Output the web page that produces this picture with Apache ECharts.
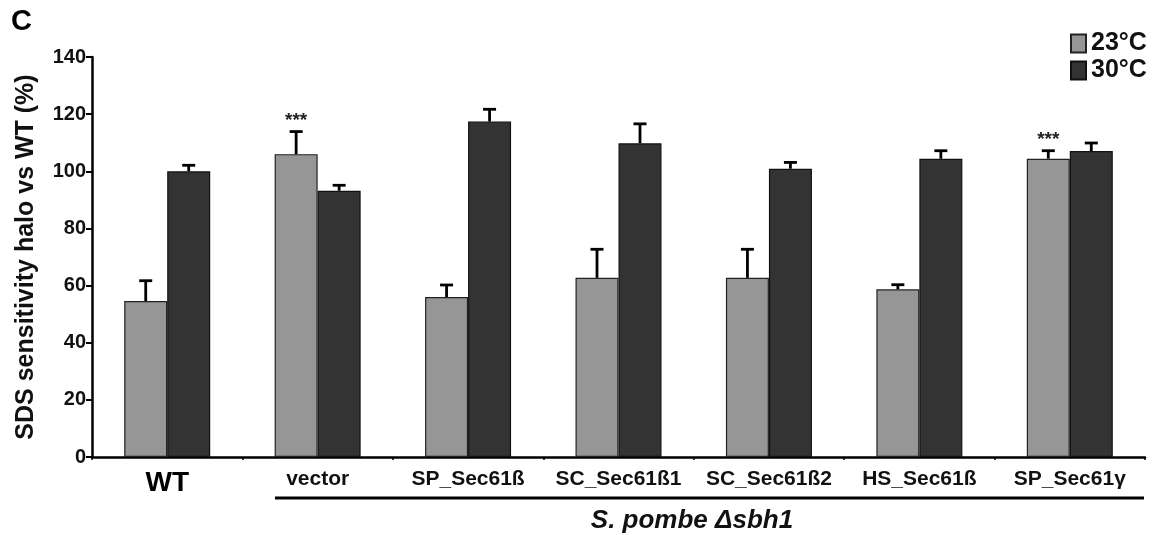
<!DOCTYPE html>
<html>
<head>
<meta charset="utf-8">
<script src="https://cdn.jsdelivr.net/npm/echarts@6/dist/echarts.min.js"></script>
<style>
html,body{margin:0;padding:0;background:#fff;}
#chart{width:1158px;height:535px;}
</style>
</head>
<body>
<div id="chart"></div>
<script>
const categories = ['WT', 'vector', 'SP_Sec61ß', 'SC_Sec61ß1', 'SC_Sec61ß2', 'HS_Sec61ß', 'SP_Sec61γ'];
const seriesNames = ['23°C', '30°C'];
const values23 = [54.6, 106.0, 56.0, 62.7, 62.7, 58.7, 104.4];
const errors23 = [7.1, 7.9, 4.2, 10.0, 10.0, 1.6, 2.8];
const values30 = [100.0, 93.2, 117.4, 109.8, 100.9, 104.4, 107.1];
const errors30 = [2.1, 1.9, 4.3, 6.8, 2.2, 2.8, 2.8];
const significance23 = ['', '***', '', '', '', '', '***'];
const yTicks = [0, 20, 40, 60, 80, 100, 120, 140];
const groupLabel = 'S. pombe Δsbh1';
const panelLetter = 'C';
const yTitle = 'SDS sensitivity halo vs WT (%)';

const FONT = '"Liberation Sans", Arial, Helvetica, sans-serif';
const BAR_W = 43;
const colors = ['#969696', '#333333'];

const chart = echarts.init(document.getElementById('chart'), null, {renderer: 'canvas'});

function errorSeries(values, errors, sign, offsetSign) {
  return {
    type: 'custom',
    silent: true,
    z: 5,
    data: values.map((v, i) => [i, v, errors[i]]),
    renderItem: function (params, api) {
      const i = api.value(0);
      const v = api.value(1);
      const e = api.value(2);
      const base = api.coord([i, v]);
      const top = api.coord([i, v + e]);
      const x = base[0] + offsetSign * BAR_W / 2;
      const cap = 6.5;
      const children = [
        {type: 'line', shape: {x1: x, y1: base[1], x2: x, y2: top[1]}, style: {stroke: '#000', lineWidth: 2.8}},
        {type: 'line', shape: {x1: x - cap, y1: top[1], x2: x + cap, y2: top[1]}, style: {stroke: '#000', lineWidth: 2.8}}
      ];
      const s = sign ? sign[params.dataIndex] : '';
      if (s) {
        children.push({type: 'text', style: {text: s, x: x, y: top[1] - 11, textAlign: 'center', textVerticalAlign: 'middle', font: 'bold 19px ' + FONT, fill: '#222'}});
      }
      return {type: 'group', children: children};
    }
  };
}

const option = {
  backgroundColor: '#fff',
  animation: false,
  grid: {left: 92, right: 13, top: 57, bottom: 78, containLabel: false},
  legend: {
    data: seriesNames,
    orient: 'vertical',
    left: 1065,
    top: 26,
    itemWidth: 15,
    itemHeight: 18,
    itemGap: 2,
    textStyle: {fontFamily: FONT, fontWeight: 'bold', fontSize: 25, color: '#111'},
    icon: 'rect'
  },
  xAxis: {
    type: 'category',
    data: categories,
    axisLine: {lineStyle: {color: '#000', width: 2.5}},
    axisTick: {show: true, length: 3, lineStyle: {color: '#000', width: 1.5}},
    axisLabel: {
      interval: 0,
      margin: 12,
      fontFamily: FONT,
      fontWeight: 'bold',
      fontSize: 21,
      color: '#111',
      formatter: function (v, i) { return i === 0 ? '{big|' + v + '}' : v; },
      rich: {big: {fontFamily: FONT, fontWeight: 'bold', fontSize: 28, color: '#000'}}
    }
  },
  yAxis: {
    type: 'value',
    min: 0,
    max: 140,
    interval: 20,
    name: yTitle,
    nameLocation: 'middle',
    nameGap: 53,
    nameTextStyle: {fontFamily: FONT, fontWeight: 'bold', fontSize: 25, color: '#111'},
    axisLine: {show: true, lineStyle: {color: '#000', width: 2.5}},
    axisTick: {show: true, length: 6, lineStyle: {color: '#000', width: 2}},
    splitLine: {show: false},
    axisLabel: {
      margin: 6,
      fontFamily: FONT,
      fontWeight: 'bold',
      fontSize: 20,
      color: '#111',
      formatter: function (v) { return yTicks.indexOf(v) >= 0 ? String(v) : ''; }
    }
  },
  series: [
    {
      name: seriesNames[0],
      type: 'bar',
      data: values23,
      barWidth: BAR_W,
      barGap: '0%',
      itemStyle: {color: colors[0], borderColor: '#222', borderWidth: 1.2}
    },
    {
      name: seriesNames[1],
      type: 'bar',
      data: values30,
      barWidth: BAR_W,
      barGap: '0%',
      itemStyle: {color: colors[1], borderColor: '#111', borderWidth: 1.2}
    },
    errorSeries(values23, errors23, significance23, -1),
    errorSeries(values30, errors30, null, 1)
  ],
  graphic: [
    {type: 'text', left: 11, top: 7, style: {text: panelLetter, font: 'bold 29px ' + FONT, fill: '#000'}},
    {type: 'line', shape: {x1: 275, y1: 498, x2: 1144, y2: 498}, style: {stroke: '#000', lineWidth: 3}},
    {type: 'text', style: {text: groupLabel, x: 692, y: 521, textAlign: 'center', textVerticalAlign: 'middle', font: 'italic bold 26px ' + FONT, fill: '#111'}}
  ]
};
chart.setOption(option);
</script>
</body>
</html>
